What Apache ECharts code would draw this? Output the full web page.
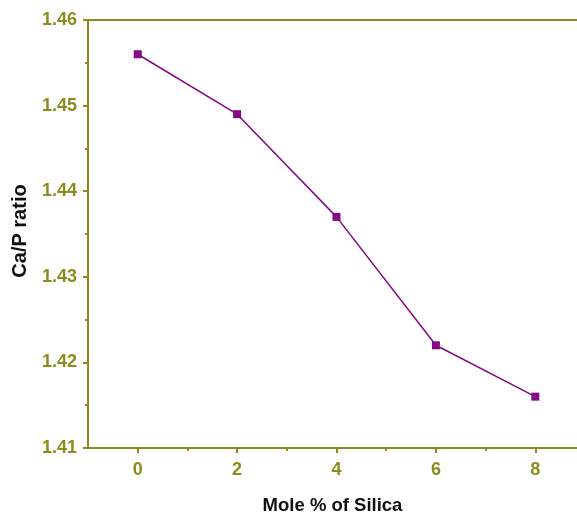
<!DOCTYPE html>
<html>
<head>
<meta charset="utf-8">
<script src="https://cdn.jsdelivr.net/npm/echarts@6/dist/echarts.min.js"></script>
<style>
  html, body { margin: 0; padding: 0; background: #fff; }
  #chart { width: 577px; height: 515px; }
</style>
</head>
<body>
<div id="chart"></div>
<script>
// mole % of silica and the Ca/P ratio
var silica = [0, 2, 4, 6, 8];
var caP = [1.456, 1.449, 1.437, 1.422, 1.416];
var xMajorTicks = [0, 2, 4, 6, 8];
var xMinorTicks = [1, 3, 5, 7];

var olive = '#8c8c1e';
var purple = '#820a82';

var myChart = echarts.init(document.getElementById('chart'));

var points = silica.map(function (x, i) { return [x, caP[i]]; });

var option = {
    animation: false,
    grid: {
        left: 88,
        top: 20,
        right: -8,
        bottom: 67,
        outerBoundsMode: 'none',
        containLabel: false,
        show: true,
        borderColor: olive,
        borderWidth: 2
    },
    xAxis: [
        {
            type: 'value',
            min: -1,
            max: 9,
            name: 'Mole % of Silica',
            nameLocation: 'middle',
            nameGap: 48,
            nameTextStyle: {
                color: '#111',
                fontFamily: 'Liberation Sans, Arial',
                fontWeight: 'bold',
                fontSize: 18.5,
                padding: [0, 0, 0, -8]
            },
            splitLine: {show: false},
            axisLine: {onZero: false, lineStyle: {color: olive, width: 2}},
            axisTick: {
                customValues: xMajorTicks,
                length: 5,
                lineStyle: {color: olive, width: 2}
            },
            axisLabel: {
                customValues: xMajorTicks,
                color: olive,
                fontFamily: 'Liberation Sans, Arial',
                fontWeight: 'bold',
                fontSize: 18,
                margin: 13
            }
        },
        {
            // minor ticks at the odd values
            type: 'value',
            position: 'bottom',
            min: -1,
            max: 9,
            splitLine: {show: false},
            axisLine: {show: false, onZero: false},
            axisTick: {
                customValues: xMinorTicks,
                length: 3,
                lineStyle: {color: olive, width: 2}
            },
            axisLabel: {show: false}
        }
    ],
    yAxis: {
        type: 'value',
        min: 1.41,
        max: 1.46,
        interval: 0.01,
        name: 'Ca/P ratio',
        nameLocation: 'middle',
        nameGap: 58,
        nameTextStyle: {
            color: '#111',
            fontFamily: 'Liberation Sans, Arial',
            fontWeight: 'bold',
            fontSize: 20,
            padding: [0, 0, 0, 6]
        },
        splitLine: {show: false},
        axisLine: {onZero: false, lineStyle: {color: olive, width: 2}},
        axisTick: {length: 5, lineStyle: {color: olive, width: 2}},
        minorTick: {show: true, splitNumber: 2, length: 3, lineStyle: {color: olive, width: 2}},
        axisLabel: {
            color: olive,
            fontFamily: 'Liberation Sans, Arial',
            fontWeight: 'bold',
            fontSize: 18,
            margin: 11,
            formatter: function (v) { return v.toFixed(2); }
        }
    },
    series: [
        {
            type: 'line',
            data: points,
            symbol: 'rect',
            symbolSize: 8,
            lineStyle: {color: purple, width: 1.5},
            itemStyle: {color: purple}
        }
    ]
};
myChart.setOption(option);
</script>
</body>
</html>
